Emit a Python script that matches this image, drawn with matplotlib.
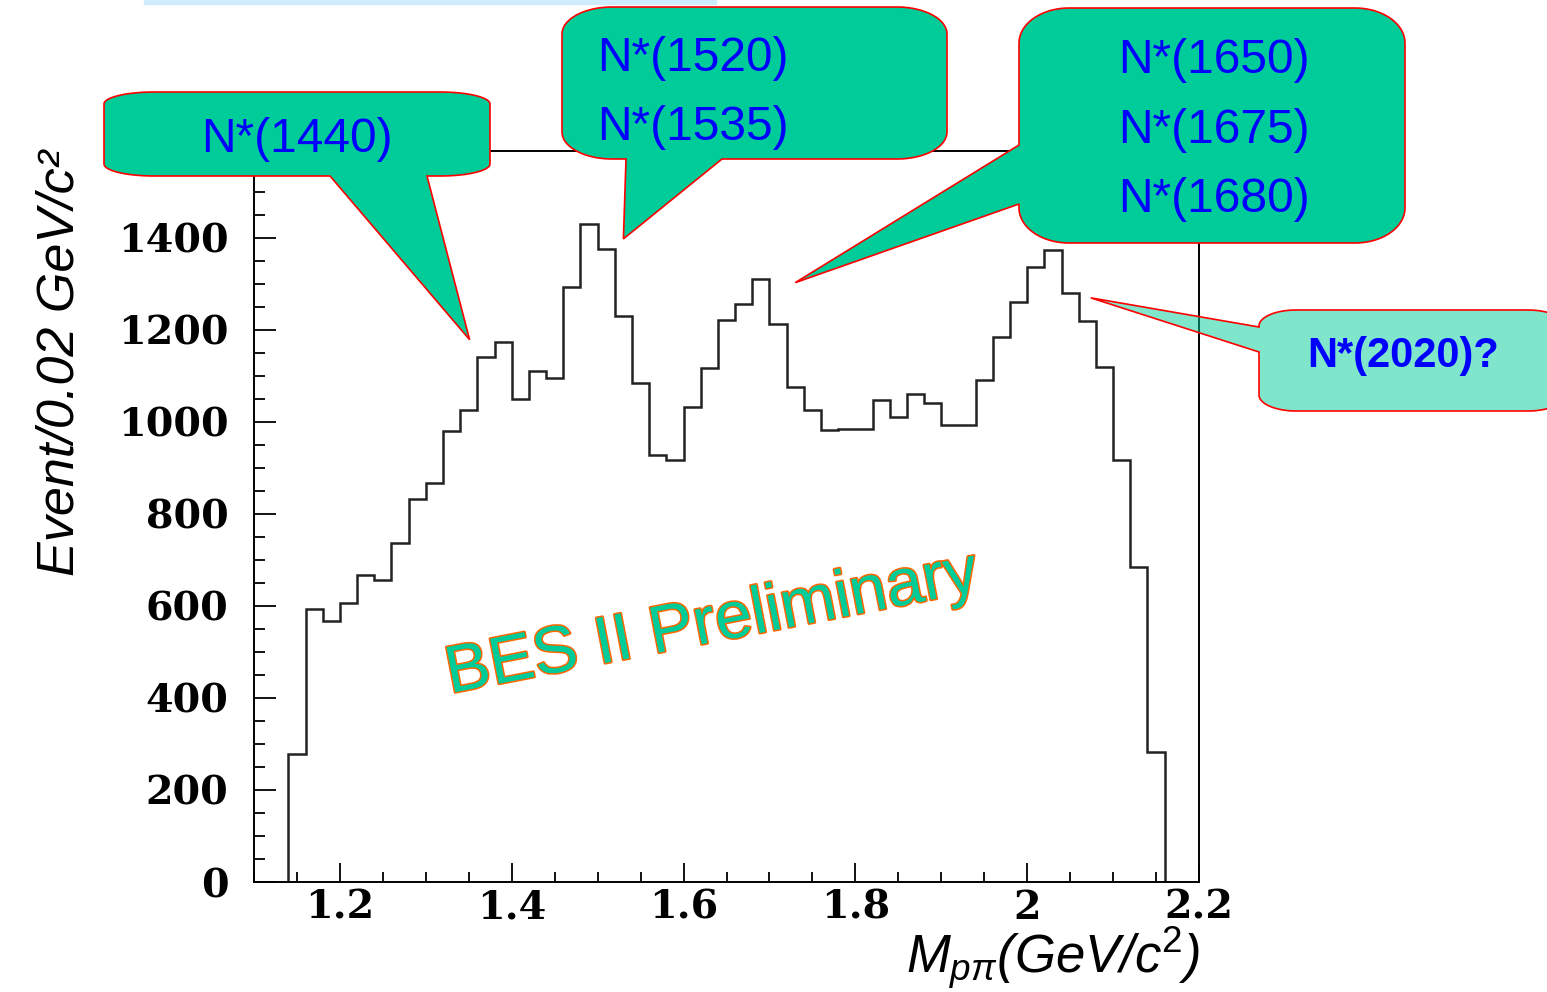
import numpy as np
import matplotlib
matplotlib.use('Agg')
import matplotlib.pyplot as plt
import matplotlib.patheffects as pe
import matplotlib.transforms as mtransforms
from matplotlib import font_manager
from matplotlib.patches import Polygon, Rectangle
from matplotlib.ticker import MultipleLocator

# ---------------------------------------------------
# events per 0.02 GeV/c^2 bin, first bin starts at 1.14
bin_start = 1.14
bin_width = 0.02
counts = [277, 592, 567, 606, 667, 657, 736, 833, 867, 979,
          1025, 1141, 1173, 1050, 1109, 1094, 1292, 1429, 1375, 1230,
          1084, 927, 917, 1032, 1116, 1221, 1256, 1311, 1212, 1076,
          1025, 982, 984, 984, 1046, 1011, 1061, 1040, 992, 992,
          1090, 1183, 1260, 1335, 1372, 1279, 1218, 1118, 917, 685, 282]

x_ticks = [1.2, 1.4, 1.6, 1.8, 2.0, 2.2]
x_tick_labels = ['1.2', '1.4', '1.6', '1.8', '2', '2.2']
y_ticks = [0, 200, 400, 600, 800, 1000, 1200, 1400]

# resonance labels and the (mass, events) point each callout points at
label_1440 = ['N*(1440)']
label_1520 = ['N*(1520)', 'N*(1535)']
label_1650 = ['N*(1650)', 'N*(1675)', 'N*(1680)']
label_2020 = ['N*(2020)?']
tip_1440 = (1.351, 1178)
tip_1520 = (1.530, 1397)
tip_1650 = (1.730, 1302)
tip_2020 = (2.074, 1269)
# ---------------------------------------------------

W, H = 1547, 992
plt.rcParams['font.family'] = 'DejaVu Serif'
plt.rcParams['font.weight'] = 'bold'
plt.rcParams['mathtext.fontset'] = 'custom'
plt.rcParams['mathtext.rm'] = 'Liberation Sans:normal'
plt.rcParams['mathtext.it'] = 'Liberation Sans:italic:normal'

fig = plt.figure(figsize=(W / 100, H / 100), dpi=100)
ax = fig.add_axes([254 / W, 1 - 882 / H, (1199 - 254) / W, (882 - 151) / H])

edges = np.round(bin_start + bin_width * np.arange(len(counts) + 1), 2)
ax.stairs(counts, edges, baseline=0, color='#222222', lw=1.8)

ax.set_xlim(1.1, 2.2)
ax.set_ylim(0, 1588)
ax.set_xticks(x_ticks, x_tick_labels)
ax.set_yticks(y_ticks)
ax.xaxis.set_minor_locator(MultipleLocator(0.05))
ax.yaxis.set_minor_locator(MultipleLocator(50))
ax.tick_params(axis='y', which='major', direction='in', length=16, width=1.3,
               labelsize=28.5, pad=18.5)
ax.tick_params(axis='y', which='minor', direction='in', length=8, width=1.3)
ax.tick_params(axis='x', which='major', direction='in', length=14, width=1.3,
               labelsize=28.5, pad=5)
ax.tick_params(axis='x', which='minor', direction='in', length=7, width=1.3)
for s in ax.spines.values():
    s.set_linewidth(1.4)

# image pixel coordinates (origin top-left)
img = mtransforms.Affine2D().scale(1 / W, -1 / H).translate(0, 1) + fig.transFigure


def to_img(xd, yd):
    p = ax.transData.transform((xd, yd))
    return p[0], H - p[1]


def callout(box, rx, ry, side, base, tip, face):
    x0, y0, x1, y1 = box
    tx, ty = to_img(*tip)
    pts = []

    def arc(cx, cy, a0, a1):
        t = np.linspace(a0, a1, 20)
        pts.extend(zip(cx + rx * np.cos(t), cy + ry * np.sin(t)))

    arc(x0 + rx, y0 + ry, np.pi, 1.5 * np.pi)
    arc(x1 - rx, y0 + ry, 1.5 * np.pi, 2 * np.pi)
    arc(x1 - rx, y1 - ry, 0, 0.5 * np.pi)
    if side == 'bottom':
        pts.extend([(base[1], y1), (tx, ty), (base[0], y1)])
    arc(x0 + rx, y1 - ry, 0.5 * np.pi, np.pi)
    if side == 'left':
        pts.extend([(x0, base[1]), (tx, ty), (x0, base[0])])
    fig.add_artist(Polygon(pts, closed=True, transform=img, facecolor=face,
                           edgecolor='red', lw=1.2, zorder=5))


teal = '#00CC99'
callout((104, 92, 490, 176), 50, 12, 'bottom', (330, 427), tip_1440, teal)
callout((562, 7, 947, 159), 50, 27, 'bottom', (626, 722), tip_1520, teal)
callout((1019, 8, 1405, 243), 50, 35, 'left', (145, 204), tip_1650, teal)
callout((1259, 310, 1565, 411), 37, 16, 'left', (327, 352), tip_2020,
        (0.0, 0.8, 0.6, 0.5))

txt = dict(transform=img, color='#0000FF', family='Liberation Sans',
           fontweight='normal', fontsize=34.5, va='baseline', zorder=6)
fig.text(297, 152, label_1440[0], ha='center', **txt)
for lbl, yb in zip(label_1520, [71, 140]):
    fig.text(597, yb, lbl, ha='left', **txt)
for lbl, yb in zip(label_1650, [73, 143, 212]):
    fig.text(1118, yb, lbl, ha='left', **txt)
txt.update(fontweight='bold', fontsize=30)
fig.text(1307, 367, label_2020[0], ha='left', **txt)

# light blue strip at the top edge
fig.add_artist(Rectangle((144, 0), 572, 4, transform=img, color='#CFECFC',
                         zorder=6))

# axis titles
fig.text(60, 150, 'Event/0.02 GeV/c²', transform=img, rotation=90,
         ha='center', va='top', family='Liberation Sans', style='italic',
         fontweight='normal', fontsize=37.5)
fig.text(1200, 973, r'$M_{p\pi}$(GeV/c$^{2}$)', transform=img, ha='right',
         va='baseline', family='Liberation Sans', style='italic',
         fontweight='normal', fontsize=38)

# watermark
names = {f.name for f in font_manager.fontManager.ttflist}
if 'Liberation Sans Narrow' in names:
    wm_font, wm_size = 'Liberation Sans Narrow', 57
else:
    wm_font, wm_size = 'Liberation Sans', 48
ax.text(0.4847, 0.3516, 'BES II Preliminary', transform=ax.transAxes,
        rotation=11, rotation_mode='anchor', ha='center', va='center',
        family=wm_font, fontweight='normal', fontsize=wm_size, color=teal,
        path_effects=[pe.withStroke(linewidth=2.2, foreground='#FF6600')])

fig.savefig('out.png', dpi=100)
